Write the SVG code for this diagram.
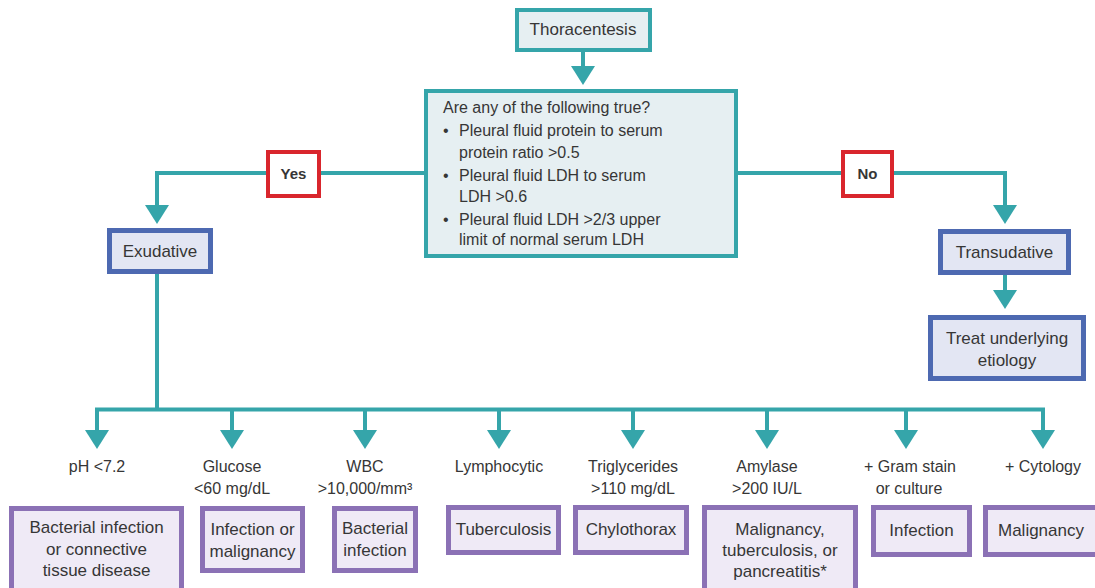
<svg xmlns="http://www.w3.org/2000/svg" width="1095" height="588" viewBox="0 0 1095 588">
  <style>
    text { font-family: "Liberation Sans", Arial, sans-serif; fill: #363636; }
    .t17 { font-size: 17px; text-anchor: middle; }
    .t16 { font-size: 16px; text-anchor: middle; }
    .q { font-size: 16px; }
    .yn { font-size: 15px; font-weight: bold; text-anchor: middle; }
    .teal { fill: #e6eff2; stroke: #35a5aa; stroke-width: 4; }
    .blue { fill: #e3e6f3; stroke: #4d69b1; stroke-width: 5; }
    .purple { fill: #efeaf6; stroke: #8b71b5; stroke-width: 5; }
    .red { fill: #ffffff; stroke: #d9262d; stroke-width: 4; }
    .line { fill: none; stroke: #35a5aa; stroke-width: 4; }
    .head { fill: #35a5aa; }
  </style>
  <defs>
    <polygon id="ah" points="-12,0 12,0 0,19"/>
  </defs>

  <rect width="1095" height="588" fill="#ffffff"/>

  <!-- connectors -->
  <g id="connectors">
    <path class="line" d="M583,51 V68"/>
    <use href="#ah" class="head" x="583" y="66"/>
    <path class="line" d="M426,173 H157 V207"/>
    <use href="#ah" class="head" x="157" y="205"/>
    <path class="line" d="M736,173 H1005 V207"/>
    <use href="#ah" class="head" x="1005" y="205"/>
    <path class="line" d="M1005,273 V292"/>
    <use href="#ah" class="head" x="1005" y="290"/>
    <path class="line" d="M157,272 V409.5"/>
    <path class="line" d="M97,432 V409.5 H1043 V432"/>
    <path class="line" d="M232,409.5 V432 M365,409.5 V432 M499,409.5 V432 M633,409.5 V432 M767,409.5 V432 M906,409.5 V432"/>
    <use href="#ah" class="head" x="97" y="430"/>
    <use href="#ah" class="head" x="232" y="430"/>
    <use href="#ah" class="head" x="365" y="430"/>
    <use href="#ah" class="head" x="499" y="430"/>
    <use href="#ah" class="head" x="633" y="430"/>
    <use href="#ah" class="head" x="767" y="430"/>
    <use href="#ah" class="head" x="906" y="430"/>
    <use href="#ah" class="head" x="1043" y="430"/>
  </g>

  <g id="thoracentesis">
    <rect class="teal" x="517" y="10" width="133" height="40"/>
    <text class="t17" x="583" y="35">Thoracentesis</text>
  </g>

  <g id="criteria">
    <rect class="teal" x="426" y="91" width="310" height="165"/>
    <text class="q" x="443" y="113">Are any of the following true?</text>
    <text class="q" x="443" y="136">•</text>
    <text class="q" x="459" y="136">Pleural fluid protein to serum</text>
    <text class="q" x="459" y="158">protein ratio &gt;0.5</text>
    <text class="q" x="443" y="181">•</text>
    <text class="q" x="459" y="181">Pleural fluid LDH to serum</text>
    <text class="q" x="459" y="202">LDH &gt;0.6</text>
    <text class="q" x="443" y="225">•</text>
    <text class="q" x="459" y="225">Pleural fluid LDH &gt;2/3 upper</text>
    <text class="q" x="459" y="245">limit of normal serum LDH</text>
  </g>

  <g id="yes">
    <rect class="red" x="268" y="152" width="51" height="44"/>
    <text class="yn" x="293.5" y="179">Yes</text>
  </g>

  <g id="no">
    <rect class="red" x="843" y="152" width="49" height="44"/>
    <text class="yn" x="867.5" y="179">No</text>
  </g>

  <g id="exudative">
    <rect class="blue" x="109.5" y="230.5" width="101" height="41"/>
    <text class="t17" x="160" y="257">Exudative</text>
  </g>

  <g id="transudative">
    <rect class="blue" x="940.5" y="231.5" width="128" height="41"/>
    <text class="t17" x="1004.5" y="258">Transudative</text>
  </g>

  <g id="treat">
    <rect class="blue" x="930.5" y="317.5" width="153" height="61"/>
    <text class="t17" x="1007" y="344">Treat underlying</text>
    <text class="t17" x="1007" y="366">etiology</text>
  </g>

  <!-- test results -->
  <g id="labels">
    <text class="t16" x="97" y="472">pH &lt;7.2</text>
    <text class="t16" x="232" y="472">Glucose</text>
    <text class="t16" x="232" y="494">&lt;60 mg/dL</text>
    <text class="t16" x="365" y="472">WBC</text>
    <text class="t16" x="365" y="494">&gt;10,000/mm³</text>
    <text class="t16" x="499" y="472">Lymphocytic</text>
    <text class="t16" x="633" y="472">Triglycerides</text>
    <text class="t16" x="633" y="494">&gt;110 mg/dL</text>
    <text class="t16" x="767" y="472">Amylase</text>
    <text class="t16" x="767" y="494">&gt;200 IU/L</text>
    <text class="t16" x="910" y="472">+ Gram stain</text>
    <text class="t16" x="909" y="494">or culture</text>
    <text class="t16" x="1043" y="472">+ Cytology</text>
  </g>

  <g id="bacterial-ctd">
    <rect class="purple" x="11.5" y="508.5" width="170" height="84"/>
    <text class="t17" x="96.5" y="533">Bacterial infection</text>
    <text class="t17" x="96.5" y="555">or connective</text>
    <text class="t17" x="96.5" y="576">tissue disease</text>
  </g>

  <g id="infection-malignancy">
    <rect class="purple" x="202.5" y="508.5" width="100" height="62"/>
    <text class="t17" x="252.5" y="535">Infection or</text>
    <text class="t17" x="252.5" y="557">malignancy</text>
  </g>

  <g id="bacterial">
    <rect class="purple" x="334.5" y="508.5" width="81" height="62"/>
    <text class="t17" x="375" y="534">Bacterial</text>
    <text class="t17" x="375" y="556">infection</text>
  </g>

  <g id="tuberculosis">
    <rect class="purple" x="448.5" y="507.5" width="110" height="45"/>
    <text class="t17" x="503.5" y="535">Tuberculosis</text>
  </g>

  <g id="chylothorax">
    <rect class="purple" x="575.5" y="507.5" width="111" height="45"/>
    <text class="t17" x="631" y="535">Chylothorax</text>
  </g>

  <g id="amylase-causes">
    <rect class="purple" x="704.5" y="507.5" width="151" height="85"/>
    <text class="t17" x="780" y="535">Malignancy,</text>
    <text class="t17" x="780" y="556">tuberculosis, or</text>
    <text class="t17" x="780" y="577">pancreatitis*</text>
  </g>

  <g id="infection">
    <rect class="purple" x="873.5" y="507.5" width="96" height="47"/>
    <text class="t17" x="921.5" y="536">Infection</text>
  </g>

  <g id="malignancy">
    <rect class="purple" x="985.5" y="507.5" width="112" height="47"/>
    <text class="t17" x="1041" y="536">Malignancy</text>
  </g>
</svg>
